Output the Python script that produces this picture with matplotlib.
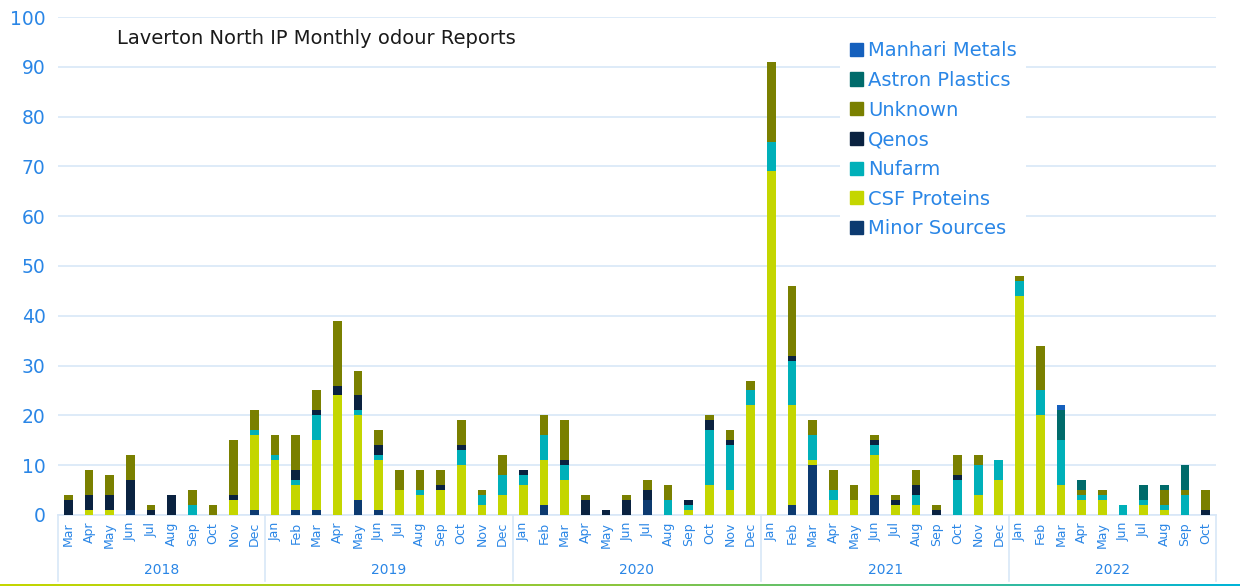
import matplotlib
matplotlib.use('Agg')
import matplotlib.pyplot as plt
import numpy as np
from matplotlib.patches import Patch
from matplotlib.colors import LinearSegmentedColormap

# Months Mar 2018 .. Oct 2022
months = (['Mar', 'Apr', 'May', 'Jun', 'Jul', 'Aug', 'Sep', 'Oct', 'Nov', 'Dec']
          + ['Jan', 'Feb', 'Mar', 'Apr', 'May', 'Jun', 'Jul', 'Aug', 'Sep', 'Oct', 'Nov', 'Dec'] * 3
          + ['Jan', 'Feb', 'Mar', 'Apr', 'May', 'Jun', 'Jul', 'Aug', 'Sep', 'Oct'])
years = ['2018', '2019', '2020', '2021', '2022']
months_per_year = [10, 12, 12, 12, 10]

minor_sources = [0, 0, 0, 1, 0, 0, 0, 0, 0, 1,
                 0, 1, 1, 0, 3, 1, 0, 0, 0, 0, 0, 0,
                 0, 2, 0, 0, 0, 0, 3, 0, 0, 0, 0, 0,
                 0, 2, 10, 0, 0, 4, 0, 0, 0, 0, 0, 0,
                 0, 0, 0, 0, 0, 0, 0, 0, 0, 0]
csf_proteins = [0, 1, 1, 0, 0, 0, 0, 0, 3, 15,
                11, 5, 14, 24, 17, 10, 5, 4, 5, 10, 2, 4,
                6, 9, 7, 0, 0, 0, 0, 0, 1, 6, 5, 22,
                69, 20, 1, 3, 3, 8, 2, 2, 0, 0, 4, 7,
                44, 20, 6, 3, 3, 0, 2, 1, 0, 0]
nufarm = [0, 0, 0, 0, 0, 0, 2, 0, 0, 1,
          1, 1, 5, 0, 1, 1, 0, 1, 0, 3, 2, 4,
          2, 5, 3, 0, 0, 0, 0, 3, 1, 11, 9, 3,
          6, 9, 5, 2, 0, 2, 0, 2, 0, 7, 6, 4,
          3, 5, 9, 1, 1, 2, 1, 1, 4, 0]
qenos = [3, 3, 3, 6, 1, 4, 0, 0, 1, 0,
         0, 2, 1, 2, 3, 2, 0, 0, 1, 1, 0, 0,
         1, 0, 1, 3, 1, 3, 2, 0, 1, 2, 1, 0,
         0, 1, 0, 0, 0, 1, 1, 2, 1, 1, 0, 0,
         0, 0, 0, 0, 0, 0, 0, 0, 0, 1]
unknown = [1, 5, 4, 5, 1, 0, 3, 2, 11, 4,
           4, 7, 4, 13, 5, 3, 4, 4, 3, 5, 1, 4,
           0, 4, 8, 1, 0, 1, 2, 3, 0, 1, 2, 2,
           16, 14, 3, 4, 3, 1, 1, 3, 1, 4, 2, 0,
           1, 9, 0, 1, 1, 0, 0, 3, 1, 4]
astron_plastics = [0] * 46 + [0, 0, 6, 2, 0, 0, 3, 1, 5, 0]
manhari_metals = [0] * 46 + [0, 0, 1, 0, 0, 0, 0, 0, 0, 0]

series = [
    ('Minor Sources', minor_sources, '#0c3a70'),
    ('CSF Proteins', csf_proteins, '#c4d600'),
    ('Nufarm', nufarm, '#00b0b9'),
    ('Qenos', qenos, '#0a2240'),
    ('Unknown', unknown, '#7a8000'),
    ('Astron Plastics', astron_plastics, '#006b6b'),
    ('Manhari Metals', manhari_metals, '#1560bd'),
]

blue = '#2a86e6'
grid_col = '#d8e7f7'

fig = plt.figure(figsize=(12.4, 5.87), dpi=100)
ax = fig.add_axes([0.0468, 0.1227, 0.9338, 0.8483])

x = np.arange(len(months))
bottom = np.zeros(len(months))
for name, vals, col in series:
    ax.bar(x, vals, bottom=bottom, width=0.42, color=col, label=name, zorder=3)
    bottom += np.array(vals)

ax.set_xlim(-0.5, len(months) - 0.5)
ax.set_ylim(0, 100)
ax.set_yticks(range(0, 101, 10))
ax.yaxis.grid(True, color=grid_col, linewidth=1.2, zorder=0)
ax.tick_params(axis='y', length=0, labelsize=13.5, labelcolor=blue, pad=9)
ax.set_xticks(x)
ax.set_xticklabels(months, rotation=90, fontsize=9, color=blue)
ax.tick_params(axis='x', length=0, pad=5)
for s in ['top', 'right', 'left']:
    ax.spines[s].set_visible(False)
ax.spines['bottom'].set_color(grid_col)
ax.spines['bottom'].set_linewidth(1.2)

# year labels and separators
start = 0
seps = [-0.5]
for yr, n in zip(years, months_per_year):
    centre = start + (n - 1) / 2
    ax.text(centre, -0.11, yr, transform=ax.get_xaxis_transform(), ha='center', va='center',
            fontsize=10, color=blue)
    start += n
    seps.append(start - 0.5)
for s in seps:
    ax.axvline(s, ymin=-0.132, ymax=0, color=grid_col, linewidth=1.2, clip_on=False)

ax.text(0.051, 0.956, 'Laverton North IP Monthly odour Reports', transform=ax.transAxes,
        fontsize=14, color='#1a1a1a', va='center')

handles = [Patch(color=c, label=n) for n, v, c in series][::-1]
leg = ax.legend(handles=handles, loc='upper left', bbox_to_anchor=(0.6755, 0.971),
                fontsize=14, labelcolor=blue, frameon=True, facecolor='white',
                edgecolor='none', framealpha=1, handlelength=0.67, handleheight=0.67,
                handletextpad=0.25, labelspacing=0.55, borderpad=0.5, borderaxespad=0)
leg.set_zorder(5)

# gradient line along the bottom
lax = fig.add_axes([0.0, 0.001, 1.0, 0.004])
cmap = LinearSegmentedColormap.from_list('g', ['#c4d600', '#8cc63f', '#00b4d8'])
lax.imshow(np.linspace(0, 1, 256).reshape(1, -1), aspect='auto', cmap=cmap)
lax.axis('off')

fig.savefig('out.png', dpi=100)
